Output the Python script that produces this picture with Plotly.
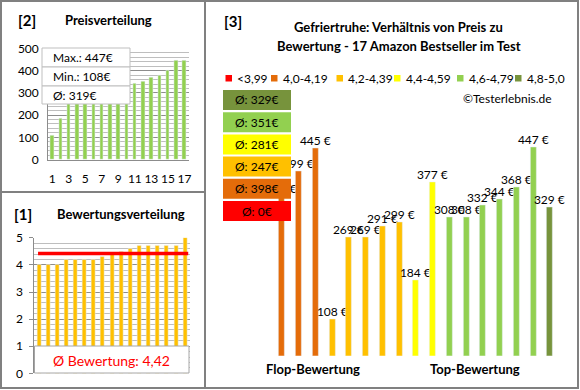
import plotly.graph_objects as go

# ---------------- data ----------------
rating_classes = ["<3,99", "4,0-4,19", "4,2-4,39", "4,4-4,59", "4,6-4,79", "4,8-5,0"]
class_colors = ["#FF0000", "#E46C0A", "#FFC000", "#FFFF00", "#92D050", "#77933C"]

# products in panel [3] order (grouped by rating class, ascending price)
product_prices = [350, 399, 445, 108, 269, 269, 291, 299, 184, 377, 308, 308, 332, 344, 368, 447, 329]
product_ratings = [4.0, 4.0, 4.0, 4.2, 4.2, 4.2, 4.3, 4.2, 4.4, 4.5, 4.7, 4.6, 4.7, 4.7, 4.7, 4.7, 5.0]

price_ticks = [0, 100, 200, 300, 400, 500]
rating_ticks = [0, 1, 2, 3, 4, 5]
x_ticks_2 = [1, 3, 5, 7, 9, 11, 13, 15, 17]

FONT = "Lato"
W, H = 580, 390


def cls_index(r):
    if r < 4.0:
        return 0
    if r < 4.2:
        return 1
    if r < 4.4:
        return 2
    if r < 4.6:
        return 3
    if r < 4.8:
        return 4
    return 5


def px(x):
    return x / W


def py(y):
    return 1 - y / H


def round_half_up(v):
    return int(v + 0.5)


n = len(product_prices)
idx = list(range(1, n + 1))
sorted_prices = sorted(product_prices)
sorted_ratings = sorted(product_ratings)
mean_price = sum(product_prices) / n
mean_rating = sum(product_ratings) / n
bar_colors = [class_colors[cls_index(r)] for r in product_ratings]
class_means = []
for ci in range(len(rating_classes)):
    vals = [p for p, r in zip(product_prices, product_ratings) if cls_index(r) == ci]
    class_means.append(round_half_up(sum(vals) / len(vals)) if vals else 0)

fig = go.Figure()

# panel [2] price distribution
fig.add_trace(go.Bar(x=idx, y=sorted_prices, marker_color="#92D050", width=0.42,
                     xaxis="x", yaxis="y", showlegend=False, hoverinfo="skip"))
# panel [1] rating distribution
fig.add_trace(go.Bar(x=idx, y=sorted_ratings, marker_color="#FFC000", width=0.44,
                     xaxis="x2", yaxis="y2", showlegend=False, hoverinfo="skip"))
fig.add_trace(go.Scatter(x=[0.9, 17.35], y=[mean_rating, mean_rating], mode="lines",
                         line=dict(color="#FF0000", width=3.5), xaxis="x2", yaxis="y2",
                         showlegend=False, hoverinfo="skip"))
# panel [3] price vs rating
fig.add_trace(go.Bar(x=idx, y=product_prices, marker_color=bar_colors, width=0.36,
                     text=[f"{p} €" for p in product_prices], textposition="outside",
                     constraintext="none",
                     textfont=dict(size=12, color="#000000", family=FONT),
                     cliponaxis=False, xaxis="x3", yaxis="y3", showlegend=False,
                     hoverinfo="skip"))

grid_major = "#8C8C8C"
grid_minor = "#BEBEBE"

layout = dict(
    width=W, height=H,
    margin=dict(l=0, r=0, t=0, b=0, autoexpand=False),
    paper_bgcolor="white", plot_bgcolor="white",
    font=dict(family=FONT, color="#000000"),
    bargap=0,
    xaxis=dict(domain=[px(48.2), px(188.5)], range=[0.5, 17.5], tickvals=x_ticks_2,
               ticks="", showgrid=False, zeroline=False, showline=True,
               linecolor="#8C8C8C", linewidth=1, tickfont=dict(size=12), ticklabelstandoff=8,
               fixedrange=True),
    yaxis=dict(domain=[py(159.5), py(48.5)], range=[0, 500], tickvals=price_ticks,
               showgrid=True, gridcolor=grid_major, gridwidth=1, zeroline=False,
               showline=True, linecolor="#8C8C8C", ticks="", tickfont=dict(size=12),
               minor=dict(dtick=20, showgrid=True, gridcolor=grid_minor, gridwidth=1),
               ticklabelstandoff=6, fixedrange=True),
    xaxis2=dict(domain=[px(34.4), px(189.6)], range=[0.5, 17.5], showticklabels=False,
                ticks="", showgrid=False, zeroline=False, showline=False, anchor="y2",
                fixedrange=True),
    yaxis2=dict(domain=[py(373.3), py(237.8)], range=[0, 5], tickvals=rating_ticks,
                showgrid=True, gridcolor=grid_major, zeroline=False, showline=True,
                linecolor="#8C8C8C", ticks="outside", ticklen=4, tickcolor="#8C8C8C",
                tickfont=dict(size=12), anchor="x2",
                minor=dict(dtick=0.2, showgrid=True, gridcolor=grid_minor),
                ticklabelstandoff=4, fixedrange=True),
    xaxis3=dict(domain=[px(273.6), px(558.4)], range=[0.5, 17.5], visible=False,
                anchor="y3", fixedrange=True),
    yaxis3=dict(domain=[py(355.7), py(69.2)], range=[36, 600], visible=False,
                anchor="x3", fixedrange=True),
)
fig.update_layout(**layout)

shapes = []
annotations = []
border = "#808080"


def note(text, x, y, size=12, color="#000000", xanchor="center"):
    annotations.append(dict(text=text, x=px(x), y=py(y), xref="paper", yref="paper",
                            xanchor=xanchor, yanchor="middle", showarrow=False,
                            font=dict(size=size, color=color)))


# outer frame and dividers
shapes.append(dict(type="rect", xref="paper", yref="paper", x0=px(1), x1=px(578),
                   y0=py(388), y1=py(1), line=dict(color=border, width=2), layer="above"))
shapes.append(dict(type="line", xref="paper", yref="paper", x0=px(205), x1=px(205),
                   y0=py(388), y1=py(1), line=dict(color=border, width=2), layer="above"))
shapes.append(dict(type="line", xref="paper", yref="paper", x0=px(1), x1=px(205),
                   y0=py(192), y1=py(192), line=dict(color=border, width=2), layer="above"))

# panel [2] headers + info box
note("<b>[2]</b>", 27, 20, 15)
note("<b>Preisverteilung</b>", 108, 20, 13)
info_rows = [f"Max.: {max(product_prices)}€", f"Min.: {min(product_prices)}€",
             f"Ø: {round_half_up(mean_price)}€"]
row_tops = [48, 67, 86, 104]
for i, t in enumerate(info_rows):
    shapes.append(dict(type="rect", xref="paper", yref="paper", x0=px(42), x1=px(130),
                       y0=py(row_tops[i + 1]), y1=py(row_tops[i]), fillcolor="white",
                       line=dict(color="#BFBFBF", width=1), layer="above"))
    note(t, 51, (row_tops[i] + row_tops[i + 1]) / 2, 12, xanchor="left")

# panel [1] headers + box
note("<b>[1]</b>", 23, 214, 15)
note("<b>Bewertungsverteilung</b>", 121, 214, 13)
shapes.append(dict(type="rect", xref="paper", yref="paper", x0=px(34.5), x1=px(189),
                   y0=py(373), y1=py(346), fillcolor="white",
                   line=dict(color="#A6A6A6", width=1), layer="above"))
note(f"Ø Bewertung: {mean_rating:.2f}".replace(".", ","), 111.5, 360, 14, "#FF0000")

# panel [3] headers
note("<b>[3]</b>", 233, 21, 15)
note("<b>Gefriertruhe: Verhältnis von Preis zu</b>", 398, 27, 13)
note("<b>Bewertung - 17 Amazon Bestseller im Test</b>", 399, 46, 13)

# legend
legend_x = [225.5, 271, 336.5, 394, 457, 515]
for i, (lab, col) in enumerate(zip(rating_classes, class_colors)):
    shapes.append(dict(type="rect", xref="paper", yref="paper", x0=px(legend_x[i]),
                       x1=px(legend_x[i] + 6.5), y0=py(81.5), y1=py(75), fillcolor=col,
                       line=dict(width=0), layer="above"))
    note(lab, legend_x[i] + 9.5, 78.5, 12, xanchor="left")

note("©Testerlebnis.de", 554, 98, 12, xanchor="right")

# class average boxes (top: best class)
for j, ci in enumerate(reversed(range(len(rating_classes)))):
    top = 90 + j * 22.2
    shapes.append(dict(type="rect", xref="paper", yref="paper", x0=px(223), x1=px(291),
                       y0=py(top + 20), y1=py(top), fillcolor=class_colors[ci],
                       line=dict(width=0), layer="above"))
    note(f"Ø: {class_means[ci]}€", 257, top + 10, 12)

note("<b>Flop-Bewertung</b>", 312.5, 369, 13)
note("<b>Top-Bewertung</b>", 474.5, 369, 13)

fig.update_layout(shapes=shapes, annotations=annotations)
fig.write_html("out.html", config={"displayModeBar": False},
               post_script="document.body.style.margin='0';document.body.style.padding='0';")
